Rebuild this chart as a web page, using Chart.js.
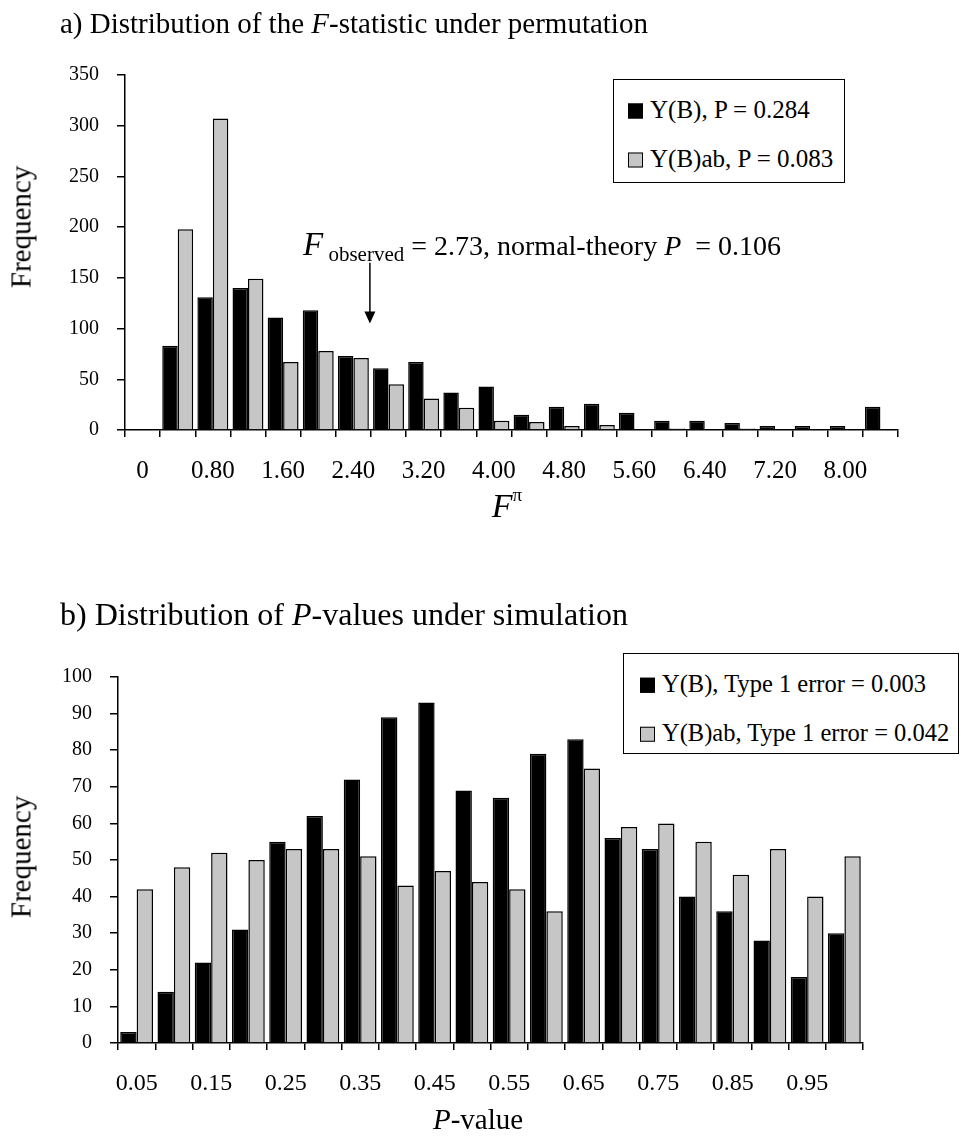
<!DOCTYPE html>
<html>
<head>
<meta charset="utf-8">
<script src="https://cdn.jsdelivr.net/npm/chart.js@4.4.1/dist/chart.umd.min.js"></script>
<style>
body { margin: 0; background: #fff; }
#hoja { position: relative; width: 968px; height: 1136px; font-family: 'Liberation Serif', 'Times New Roman', serif; color: #000; }
canvas { position: absolute; left: 0; }
.txt { position: absolute; white-space: nowrap; line-height: 1; }
.centro { transform: translate(-50%, -50%); }
.izq { transform: translateY(-50%); }
.leyenda { position: absolute; border: 1.5px solid #000; background: #fff; box-sizing: border-box; }
.item { position: absolute; line-height: 1; white-space: nowrap; transform: translateY(-50%); }
.cuadro { display: inline-block; width: 15px; height: 15px; box-sizing: border-box; border: 1.5px solid #000; margin-right: 7px; vertical-align: -1px; }
</style>
</head>
<body>
<div id="hoja">
  <canvas id="graficaA" width="968" height="530" style="top:0"></canvas>
  <canvas id="graficaB" width="968" height="576" style="top:560px"></canvas>

  <div class="txt izq" style="left:60px; top:23px; font-size:29px;">a) Distribution of the <i>F</i>-statistic under permutation</div>
  <div class="txt centro" style="left:21px; top:227px; font-size:29px; transform:translate(-50%,-50%) rotate(-90deg);">Frequency</div>
  <div class="txt izq" style="left:303px; top:244px; font-size:28px;"><i style="font-size:33px">F</i><span style="font-size:21px; position:relative; top:6px;"> observed</span> = 2.73, normal-theory <i>P</i> &nbsp;= 0.106</div>
  <div class="txt centro" style="left:507px; top:506px; font-size:34px;"><i>F</i><sup style="font-size:19px; position:relative; top:-4px;">&pi;</sup></div>
  <div class="leyenda" style="left:613px; top:79px; width:232px; height:104px;">
    <div class="item" style="left:14px; top:29px; font-size:25px;"><span class="cuadro" style="background:#000"></span>Y(B), P = 0.284</div>
    <div class="item" style="left:14px; top:78px; font-size:25px;"><span class="cuadro" style="background:#c6c6c6"></span>Y(B)ab, P = 0.083</div>
  </div>

  <div class="txt izq" style="left:60px; top:614px; font-size:32px;">b) Distribution of <i>P</i>-values under simulation</div>
  <div class="txt centro" style="left:21px; top:857px; font-size:29px; transform:translate(-50%,-50%) rotate(-90deg);">Frequency</div>
  <div class="txt centro" style="left:478px; top:1119px; font-size:29px;"><i>P</i>-value</div>
  <div class="leyenda" style="left:623px; top:653px; width:336px; height:101px;">
    <div class="item" style="left:16px; top:30px; font-size:24.5px;"><span class="cuadro" style="background:#000"></span>Y(B), Type 1 error = 0.003</div>
    <div class="item" style="left:16px; top:79px; font-size:24.5px;"><span class="cuadro" style="background:#c6c6c6"></span>Y(B)ab, Type 1 error = 0.042</div>
  </div>
</div>

<script>
// datos de la grafica a (F bajo permutacion)
const fCategorias = ['0', '0.40', '0.80', '1.20', '1.60', '2.00', '2.40', '2.80', '3.20', '3.60', '4.00',
    '4.40', '4.80', '5.20', '5.60', '6.00', '6.40', '6.80', '7.20', '7.60', '8.00', '8.40'];
const fYB = [0, 83, 131, 140, 111, 118, 73, 61, 67, 37, 43, 15, 23, 26, 17, 9, 9, 7, 4, 4, 4, 23];
const fYBab = [0, 198, 307, 149, 67, 78, 71, 45, 31, 22, 9, 8, 4, 5, 0, 1.5, 0, 1.5, 0, 0, 0, 0];
const fTicksY = [0, 50, 100, 150, 200, 250, 300, 350];

// datos de la grafica b (valores P bajo simulacion)
const pCategorias = ['0.05', '0.10', '0.15', '0.20', '0.25', '0.30', '0.35', '0.40', '0.45', '0.50',
    '0.55', '0.60', '0.65', '0.70', '0.75', '0.80', '0.85', '0.90', '0.95', '1.00'];
const pYB = [3, 14, 22, 31, 55, 62, 72, 89, 93, 69, 67, 79, 83, 56, 53, 40, 36, 28, 18, 30];
const pYBab = [42, 48, 52, 50, 53, 53, 51, 43, 47, 44, 42, 36, 75, 59, 60, 55, 46, 53, 40, 51];
const pTicksY = [0, 10, 20, 30, 40, 50, 60, 70, 80, 90, 100];

// la flecha de F observado (en unidades de categoria y frecuencia)
const flecha = { pos: 6.47, desde: 165, hasta: 105 };

const fuenteY = { family: "'Liberation Serif', 'Times New Roman', serif", size: 20 };
const gris = '#c6c6c6';

// para dibujar la flecha de la grafica a
const pluginFlecha = {
    id: 'flecha',
    afterDatasetsDraw(chart) {
        if (chart.canvas.id !== 'graficaA') return;
        const ctx = chart.ctx;
        const x = chart.scales.x.getPixelForValue(flecha.pos);
        const y1 = chart.scales.y.getPixelForValue(flecha.desde);
        const y2 = chart.scales.y.getPixelForValue(flecha.hasta);
        ctx.save();
        ctx.strokeStyle = '#000';
        ctx.fillStyle = '#000';
        ctx.lineWidth = 1.5;
        ctx.beginPath();
        ctx.moveTo(x, y1);
        ctx.lineTo(x, y2 - 8);
        ctx.stroke();
        ctx.beginPath();
        ctx.moveTo(x - 5.5, y2 - 12);
        ctx.lineTo(x + 5.5, y2 - 12);
        ctx.lineTo(x, y2);
        ctx.closePath();
        ctx.fill();
        ctx.restore();
    }
};

function crearGrafica(id, categorias, negro, claro, ticksY, caja, tamX) {
    const ctx = document.getElementById(id);
    const alto = ctx.height;
    return new Chart(ctx, {
        type: 'bar',
        data: {
            labels: categorias,
            datasets: [
                { label: 'Y(B)', data: negro, backgroundColor: '#000', borderColor: '#000', borderWidth: 1.5 },
                { label: 'Y(B)ab', data: claro, backgroundColor: gris, borderColor: '#000', borderWidth: 1.5 }
            ]
        },
        options: {
            responsive: false,
            animation: false,
            devicePixelRatio: 1,
            layout: { padding: { top: caja.top, right: 968 - caja.right, left: 0, bottom: 0 } },
            datasets: { bar: { categoryPercentage: 0.88, barPercentage: 1.0 } },
            plugins: { legend: { display: false }, tooltip: { enabled: false } },
            scales: {
                x: {
                    offset: true,
                    grid: { offset: true, drawOnChartArea: false, drawTicks: true, tickLength: 7, color: '#000', lineWidth: 1.5 },
                    border: { display: true, color: '#000', width: 1.5 },
                    ticks: {
                        autoSkip: false, maxRotation: 0, padding: 19, color: '#000',
                        font: { family: fuenteY.family, size: tamX },
                        callback: (v, i) => (i % 2 === 0 ? categorias[i] : '')
                    },
                    afterFit: (scale) => { scale.height = alto - caja.bottom; }
                },
                y: {
                    min: ticksY[0],
                    max: ticksY[ticksY.length - 1],
                    afterBuildTicks: (scale) => { scale.ticks = ticksY.map(v => ({ value: v })); },
                    grid: { drawOnChartArea: false, drawTicks: true, tickLength: 8, color: '#000', lineWidth: 1.5 },
                    border: { display: true, color: '#000', width: 1.5 },
                    ticks: { padding: 18, color: '#000', font: fuenteY },
                    afterFit: (scale) => { scale.width = caja.left; }
                }
            }
        },
        plugins: [pluginFlecha]
    });
}

crearGrafica('graficaA', fCategorias, fYB, fYBab, fTicksY, { left: 125, right: 898, top: 75, bottom: 430 }, 25);
crearGrafica('graficaB', pCategorias, pYB, pYBab, pTicksY, { left: 118, right: 863, top: 117, bottom: 483 }, 24);
</script>
</body>
</html>
